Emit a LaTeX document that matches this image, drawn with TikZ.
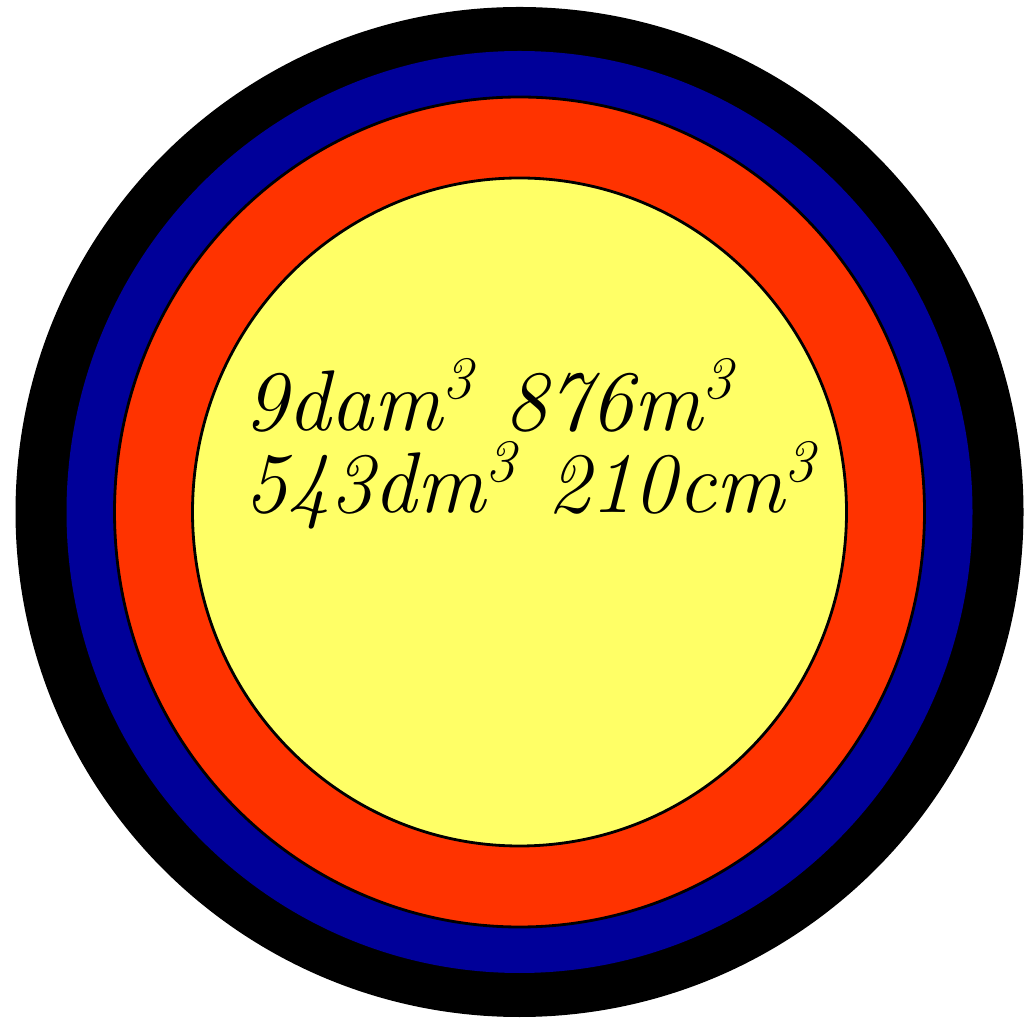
\documentclass[tikz,border=0pt]{standalone}
\usetikzlibrary{calc, positioning}

\definecolor{ringblue}{HTML}{000099}
\definecolor{ringred}{HTML}{FF3300}
\definecolor{ringyellow}{HTML}{FFFF66}

\newcommand{\cub}{\textsuperscript{3}}

\begin{document}
\begin{tikzpicture}
\useasboundingbox (0,0) rectangle (10.25,10.19);
\def\cx{5.195}
\def\cy{5.07}

\coordinate (O) at (\cx,\cy);
\coordinate (T) at (2.44,5.06);

\fill[black] (O) ellipse [x radius=5.04, y radius=5.05];
\fill[ringblue] (O) ellipse [x radius=4.53, y radius=4.61];
\filldraw[fill=ringred, draw=black, line width=0.8pt] (O) ellipse [x radius=4.05, y radius=4.15];
\filldraw[fill=ringyellow, draw=black, line width=0.8pt] (O) ellipse [x radius=3.27, y radius=3.34];

\node[anchor=base west, inner sep=0pt, align=left,
  font=\fontsize{24.5}{23.5}\selectfont\itshape] (vol) at (T)
  {9dam\cub{} 876m\cub\\543dm\cub{} 210cm\cub};
\end{tikzpicture}
\end{document}
